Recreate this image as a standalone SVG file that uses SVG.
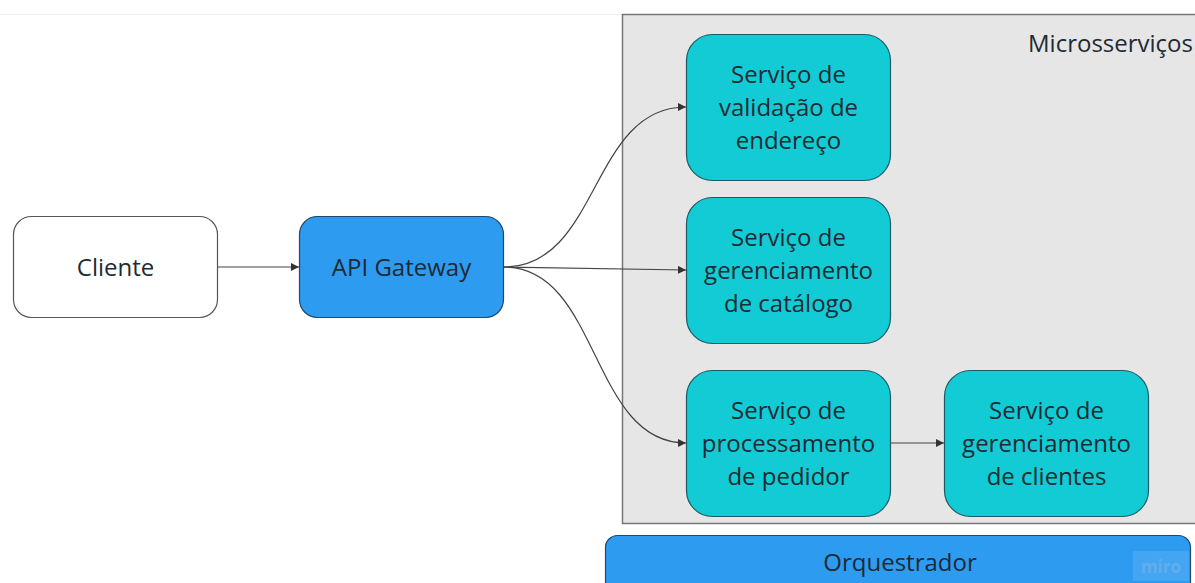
<svg xmlns="http://www.w3.org/2000/svg" width="1195" height="583" viewBox="0 0 1195 583">
<defs>
<marker id="arr" viewBox="0 0 10 10" refX="10" refY="5" markerWidth="8" markerHeight="8" markerUnits="userSpaceOnUse" orient="auto">
<path d="M0,0 L10,5 L0,10 z" fill="#333"/>
</marker>
<style>
text{font-family:"Open Sans","Noto Sans",sans-serif;font-size:24px;fill:#1f2a33;text-anchor:middle}
.svc{fill:#13cbd4;stroke:#1d5a66;stroke-width:1.2}
.edge{fill:none;stroke:#444;stroke-width:1.2;marker-end:url(#arr)}
</style>
</defs>
<rect width="1195" height="583" fill="#ffffff"/>
<line x1="0" y1="14.5" x2="1195" y2="14.5" stroke="#f0f0f0" stroke-width="1"/>
<g id="microsservicos">
<rect x="622.5" y="14.5" width="600" height="509" fill="#e6e6e6" stroke="#777" stroke-width="1.5"/>
<text x="1028" y="52" style="text-anchor:start">Microsserviços</text>
</g>
<g id="cliente">
<rect x="13.5" y="216.5" width="204" height="101" rx="18" fill="#ffffff" stroke="#555" stroke-width="1.2"/>
<text x="115.5" y="276">Cliente</text>
</g>
<g id="api-gateway">
<rect x="299.5" y="216.5" width="204" height="101" rx="18" fill="#2d9bf0" stroke="#1f4a6e" stroke-width="1.2"/>
<text x="401.5" y="276">API Gateway</text>
</g>
<g id="servico-validacao">
<rect class="svc" x="686.5" y="34.5" width="204" height="146" rx="26"/>
<text x="788.5" y="83">Serviço de</text>
<text x="788.5" y="116">validação de</text>
<text x="788.5" y="149">endereço</text>
</g>
<g id="servico-catalogo">
<rect class="svc" x="686.5" y="197.5" width="204" height="146" rx="26"/>
<text x="788.5" y="246">Serviço de</text>
<text x="788.5" y="279">gerenciamento</text>
<text x="788.5" y="312">de catálogo</text>
</g>
<g id="servico-pedido">
<rect class="svc" x="686.5" y="370.5" width="204" height="146" rx="26"/>
<text x="788.5" y="419">Serviço de</text>
<text x="788.5" y="452">processamento</text>
<text x="788.5" y="485">de pedidor</text>
</g>
<g id="servico-clientes">
<rect class="svc" x="944.5" y="370.5" width="204" height="146" rx="26"/>
<text x="1046.5" y="419">Serviço de</text>
<text x="1046.5" y="452">gerenciamento</text>
<text x="1046.5" y="485">de clientes</text>
</g>
<g id="orquestrador">
<rect x="605.5" y="535.5" width="585" height="70" rx="12" fill="#2d9bf0" stroke="#1f4a6e" stroke-width="1.2"/>
<text x="900" y="571">Orquestrador</text>
<rect x="1133" y="551" width="56" height="30" fill="#4ea9f2" opacity="0.7"/>
<text x="1161" y="573" style="font-size:17px;fill:#63aeea;font-weight:bold">miro</text>
</g>
<g id="connectors">
<path class="edge" d="M218,267 L299,267"/>
<path class="edge" d="M504,267 C600,267 590,107 686,107"/>
<path class="edge" d="M504,267 L686,270"/>
<path class="edge" d="M504,267 C600,267 590,443 686,443"/>
<path class="edge" d="M890,443 L944,443"/>
</g>
</svg>
